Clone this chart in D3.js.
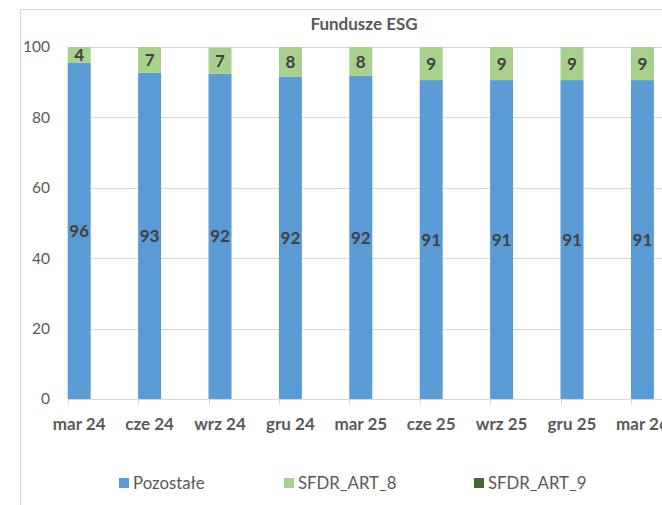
<!DOCTYPE html>
<html>
<head>
<meta charset="utf-8">
<script src="https://cdn.jsdelivr.net/npm/d3@7"></script>
<style>
  html, body { margin: 0; padding: 0; background: #fff; }
  svg { display: block; font-family: Lato, "Liberation Sans", sans-serif; }
</style>
</head>
<body>
<div id="chart"></div>
<script>
const categories = ['mar 24', 'cze 24', 'wrz 24', 'gru 24', 'mar 25', 'cze 25', 'wrz 25', 'gru 25', 'mar 26'];
const pozostale = [95.6, 92.7, 92.4, 91.6, 91.8, 90.6, 90.6, 90.6, 90.6];
const sfdrArt8 = [4.4, 7.3, 7.4, 8.4, 8.2, 9.4, 9.4, 9.4, 9.4];
const sfdrArt9 = [0, 0, 0, 0, 0, 0, 0, 0, 0];
const yTicks = [0, 20, 40, 60, 80, 100];

const seriesNames = ['Pozostałe', 'SFDR_ART_8', 'SFDR_ART_9'];
const colors = ['#5B9BD5', '#A9D18E', '#43682B'];

const width = 662, height = 505;
const svg = d3.select('#chart').append('svg')
  .attr('width', width)
  .attr('height', height);

// chart area frame (right / bottom are cut off in the original)
svg.append('path')
  .attr('d', `M20.5,${height} V9.5 H${width}`)
  .attr('fill', 'none')
  .attr('stroke', '#D9D9D9');

svg.append('text')
  .attr('x', 364)
  .attr('y', 30)
  .attr('text-anchor', 'middle')
  .attr('font-weight', 'bold')
  .attr('font-size', 17)
  .attr('fill', '#595959')
  .text('Fundusze ESG');

const rows = categories.map((c, i) => ({
  cat: c,
  'Pozostałe': pozostale[i],
  'SFDR_ART_8': sfdrArt8[i],
  'SFDR_ART_9': sfdrArt9[i]
}));
const stacked = d3.stack().keys(seriesNames)(rows);

const step = 70.4, left = 67.7;
const x = d3.scaleBand()
  .domain(categories)
  .range([left, left + step * categories.length])
  .padding(0);
const barW = 23;

const y = d3.scaleLinear().domain([0, 100]).range([399, 47]);

// gridlines
svg.append('g')
  .selectAll('line')
  .data(yTicks.filter(d => d > 0))
  .join('line')
  .attr('x1', left)
  .attr('x2', width)
  .attr('y1', d => Math.round(y(d)) + 0.5)
  .attr('y2', d => Math.round(y(d)) + 0.5)
  .attr('stroke', '#D9D9D9');

// y labels
svg.append('g')
  .selectAll('text')
  .data(yTicks)
  .join('text')
  .attr('x', 50)
  .attr('y', d => y(d))
  .attr('dy', '0.35em')
  .attr('text-anchor', 'end')
  .attr('font-size', 15.5)
  .attr('fill', '#595959')
  .text(d => d);

// bars
const layer = svg.append('g')
  .selectAll('g')
  .data(stacked)
  .join('g')
  .attr('fill', (d, i) => colors[i]);

layer.selectAll('rect')
  .data(d => d)
  .join('rect')
  .attr('x', d => x(d.data.cat))
  .attr('width', barW)
  .attr('y', d => y(d[1]))
  .attr('height', d => y(d[0]) - y(d[1]));

// data labels
const fmt = d3.format('.0f');
svg.append('g')
  .selectAll('g')
  .data(stacked)
  .join('g')
  .selectAll('text')
  .data(d => d.filter(p => p[1] - p[0] > 0))
  .join('text')
  .attr('x', d => x(d.data.cat) + barW / 2)
  .attr('y', d => (y(d[0]) + y(d[1])) / 2)
  .attr('dy', '0.36em')
  .attr('text-anchor', 'middle')
  .attr('font-weight', 'bold')
  .attr('font-size', 17)
  .attr('fill', '#404040')
  .text(d => fmt(d[1] - d[0]));

// x axis
const xAxis = svg.append('g');
xAxis.append('line')
  .attr('x1', left)
  .attr('x2', width)
  .attr('y1', 399.5)
  .attr('y2', 399.5)
  .attr('stroke', '#D9D9D9');
xAxis.selectAll('line.tick')
  .data(categories)
  .join('line')
  .attr('class', 'tick')
  .attr('x1', d => Math.round(x(d)) + 0.5)
  .attr('x2', d => Math.round(x(d)) + 0.5)
  .attr('y1', 399)
  .attr('y2', 405)
  .attr('stroke', '#D9D9D9');
xAxis.selectAll('text')
  .data(categories)
  .join('text')
  .attr('x', d => x(d) + barW / 2)
  .attr('y', 424)
  .attr('dy', '0.35em')
  .attr('text-anchor', 'middle')
  .attr('font-weight', 'bold')
  .attr('font-size', 17)
  .attr('fill', '#595959')
  .text(d => d);

// legend
const legendX = [119, 284, 474];
const legend = svg.append('g')
  .selectAll('g')
  .data(seriesNames)
  .join('g')
  .attr('transform', (d, i) => `translate(${legendX[i]},483)`);
legend.append('rect')
  .attr('x', 0)
  .attr('y', -5)
  .attr('width', 10)
  .attr('height', 10)
  .attr('fill', (d, i) => colors[i]);
legend.append('text')
  .attr('x', 14)
  .attr('y', 0)
  .attr('dy', '0.35em')
  .attr('font-size', 16.8)
  .attr('fill', '#595959')
  .text(d => d);
</script>
</body>
</html>
